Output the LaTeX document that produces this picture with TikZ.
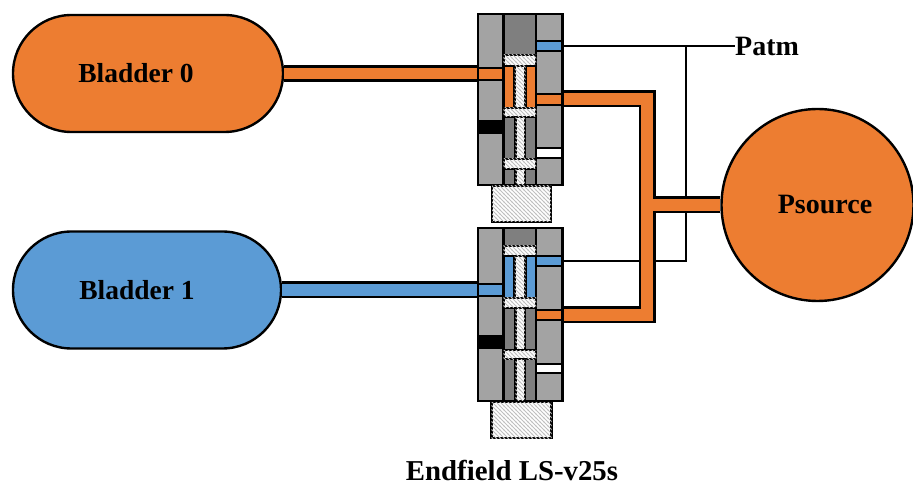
\documentclass[tikz,border=0pt]{standalone}
\usepackage{fontspec}
\setmainfont{Liberation Serif}
\usetikzlibrary{patterns,shapes.misc}
\definecolor{orng}{HTML}{ED7D31}
\definecolor{blu}{HTML}{5B9BD5}
\definecolor{gr}{HTML}{A3A3A3}
\definecolor{dk}{HTML}{7F7F7F}
\pgfdeclarepatternformonly{widehatch}{\pgfqpoint{-1pt}{-1pt}}{\pgfqpoint{5pt}{5pt}}{\pgfqpoint{4pt}{4pt}}{%
  \pgfsetlinewidth{0.9pt}
  \pgfpathmoveto{\pgfqpoint{-0.5pt}{4.5pt}}
  \pgfpathlineto{\pgfqpoint{4.5pt}{-0.5pt}}
  \pgfusepath{stroke}}
\newcommand{\vcell}[6]{\node[vbox,#2,minimum width={(#5-#3)*1pt},minimum height={(#6-#4)*1pt}] (#1) at ({(#3+#5)/2},{(#4+#6)/2}) {};}
\tikzset{
 vbox/.style={draw=black,line width=2.8pt,inner sep=0pt,outer sep=0pt,rectangle},
 lightc/.style={fill=gr},
 darkc/.style={fill=dk},
 orangec/.style={fill=orng},
 bluec/.style={fill=blu},
 blackc/.style={fill=black},
 whitec/.style={fill=white},
 hatchc/.style={fill=white,postaction={pattern=widehatch,pattern color=black!25}},
 bladder/.style={rounded rectangle,draw=black,line width=2.4pt,minimum height=117pt,inner sep=0pt},
 label/.style={font=\fontsize{28}{32}\selectfont\bfseries,inner sep=0pt},
 titlelabel/.style={font=\fontsize{28.8}{32}\selectfont\bfseries,inner sep=0pt},
 blabel/.style={font=\fontsize{27.5}{32}\selectfont\bfseries,inner sep=0pt},
 thin line/.style={draw=black,line width=2.2pt},
 tube out/.style={draw=black,line width=17pt,line join=miter},
 tube in/.style={line width=11.5pt,line join=miter},
}
\begin{document}
\begin{tikzpicture}[x=1pt,y=-1pt]
\useasboundingbox (0,0) rectangle (913,486);
% bladders and source
\node[bladder,fill=orng,minimum width=270pt] (b0) at (148,73.5) {};
\node[bladder,fill=blu,minimum width=268pt] (b1) at (147,290) {};
\node[blabel] (b0t) at (136,73) {Bladder 0};
\node[blabel] (b1t) at (137,290) {Bladder 1};
\node[circle,draw=black,line width=2.4pt,fill=orng,minimum size=192pt,inner sep=0pt] (ps) at (817.5,205) {};
\node[label] (pst) at (825,205) {Psource};
\node[label,anchor=west] (patm) at (735,46) {Patm};
\node[titlelabel] (title) at (512,470.5) {Endfield LS-v25s};
% port positions on the valves
\coordinate (lp0) at (478,73.5);
\coordinate (lp1) at (478,290);
\coordinate (rb0) at (563,46);
\coordinate (rb1) at (563,261);
\coordinate (ro0) at (563,99);
\coordinate (ro1) at (563,315);
\coordinate (mx) at (647,205);
\coordinate (pv) at (686,46);
% thin atmosphere lines
\draw[thin line] (rb0) -- (pv) -- (patm.west);
\draw[thin line] (pv) |- (rb1);
% tubes
\draw[tube out] (b0.east) -- (lp0);
\draw[tube in,draw=orng] (b0.east) -- (lp0);
\draw[tube out] (b1.east) -- (lp1);
\draw[tube in,draw=blu] (b1.east) -- (lp1);
\draw[tube out] (ro0) -| (mx) |- (ro1);
\draw[tube out] (mx) -- (ps.west);
\draw[tube in,draw=orng] (ro0) -| (mx) |- (ro1);
\draw[tube in,draw=orng] (mx) -- (ps.west);
% valve 1
\vcell{a1}{lightc}{478}{14}{503.5}{185}
\vcell{a2}{lightc}{536}{14}{562.5}{185}
\vcell{a3}{darkc}{503.5}{14}{536}{185}
\vcell{a4}{hatchc}{503.5}{55}{536}{66}
\vcell{a5}{orangec}{503.5}{66}{536}{108}
\vcell{a6}{hatchc}{514.5}{66}{525.5}{108}
\vcell{a7}{hatchc}{503.5}{108}{536}{117}
\vcell{a8}{hatchc}{515.5}{117}{525}{159}
\vcell{a9}{hatchc}{503.5}{159}{536}{169}
\vcell{a10}{hatchc}{515.5}{169}{525}{185}
\vcell{a11}{orangec}{478}{68}{503.5}{80}
\vcell{a12}{blackc}{478}{121}{503.5}{133}
\vcell{a13}{bluec}{536}{41}{562.5}{51}
\vcell{a14}{orangec}{536}{94}{562.5}{105}
\vcell{a15}{whitec}{536}{148}{562.5}{158}
\node[vbox,hatchc,minimum width=59pt,minimum height=36pt] (ped0) at (521.5,204) {};
% valve 2
\vcell{c1}{lightc}{478}{228}{503.5}{401}
\vcell{c2}{lightc}{536}{228}{562.5}{401}
\vcell{c3}{darkc}{503.5}{228}{536}{401}
\vcell{c4}{hatchc}{503.5}{246}{536}{256}
\vcell{c5}{bluec}{503.5}{256}{536}{298}
\vcell{c6}{hatchc}{514.5}{256}{525.5}{298}
\vcell{c7}{hatchc}{503.5}{298}{536}{308}
\vcell{c8}{hatchc}{515.5}{308}{525}{350}
\vcell{c9}{hatchc}{503.5}{350}{536}{359}
\vcell{c10}{hatchc}{515.5}{359}{525}{401}
\vcell{c11}{bluec}{478}{284}{503.5}{296}
\vcell{c12}{blackc}{478}{336}{503.5}{348}
\vcell{c13}{bluec}{536}{256}{562.5}{266}
\vcell{c14}{orangec}{536}{310}{562.5}{320}
\vcell{c15}{whitec}{536}{364}{562.5}{373}
\node[vbox,hatchc,minimum width=60pt,minimum height=36pt] (ped1) at (521.5,420) {};
\end{tikzpicture}
\end{document}
